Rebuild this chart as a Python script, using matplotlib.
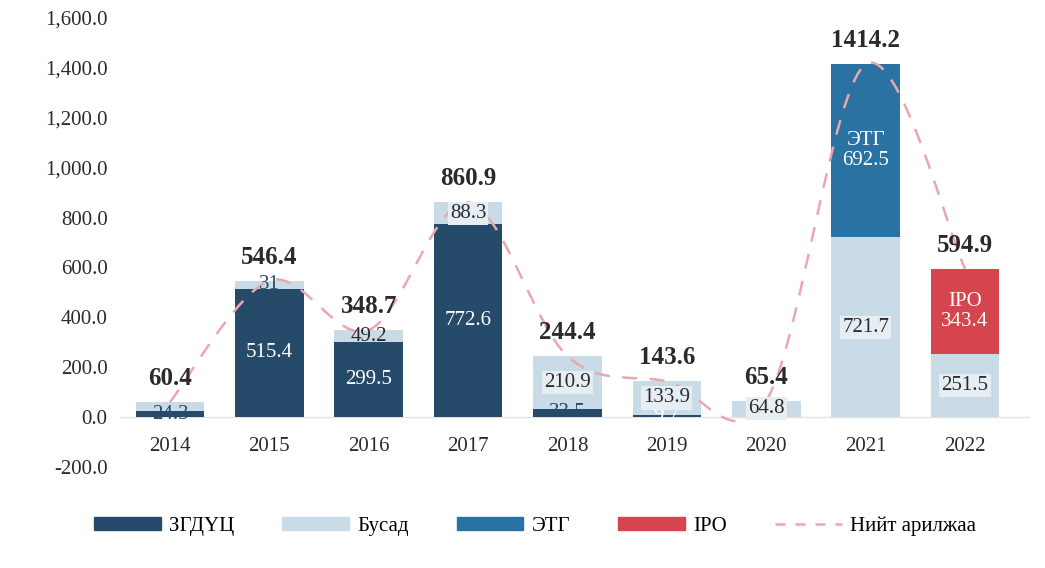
import matplotlib
matplotlib.use('Agg')
import matplotlib.pyplot as plt
from matplotlib.path import Path
from matplotlib.patches import PathPatch, Patch
from matplotlib.lines import Line2D
from matplotlib.ticker import FuncFormatter
import numpy as np

years = ['2014', '2015', '2016', '2017', '2018', '2019', '2020', '2021', '2022']
zgduts = [24.3, 515.4, 299.5, 772.6, 33.5, 9.7, 0.6, 0.0, 0.0]
busad = [36.1, 31.0, 49.2, 88.3, 210.9, 133.9, 64.8, 721.7, 251.5]
etg = [0, 0, 0, 0, 0, 0, 0, 692.5, 0]
ipo = [0, 0, 0, 0, 0, 0, 0, 0, 343.4]
total = [60.4, 546.4, 348.7, 860.9, 244.4, 143.6, 65.4, 1414.2, 594.9]

zgduts_labels = ['24.3', '515.4', '299.5', '772.6', '33.5', '9.7', '', '', '']
busad_labels = ['', '31', '49.2', '88.3', '210.9', '133.9', '64.8', '721.7', '251.5']
etg_labels = ['', '', '', '', '', '', '', 'ЭТГ\n692.5', '']
ipo_labels = ['', '', '', '', '', '', '', '', 'IPO\n343.4']

C_NAVY = '#264a69'
C_LIGHT = '#c9dbe7'
C_BLUE = '#2a72a2'
C_RED = '#d6444d'
C_LINE = '#eba7ae'
C_TEXT = '#2a2a2a'

SERIF = ['Liberation Serif', 'DejaVu Serif']
plt.rcParams['font.family'] = SERIF

fig = plt.figure(figsize=(10.45, 5.68), dpi=100)
ax = fig.add_axes([120/1045, 1 - 467/568, 910/1045, 449/568])

x = np.arange(len(years))
w = 0.69
z = np.array(zgduts)
b = np.array(busad)
e = np.array(etg)
p = np.array(ipo)

ax.bar(x, z, w, color=C_NAVY, zorder=2)
ax.bar(x, b, w, bottom=z, color=C_LIGHT, zorder=2)
ax.bar(x, e, w, bottom=z + b, color=C_BLUE, zorder=2)
ax.bar(x, p, w, bottom=z + b + e, color=C_RED, zorder=2)

# segment labels
for i in range(len(years)):
    if zgduts_labels[i]:
        col = 'white' if zgduts[i] > 100 or zgduts[i] < 20 else C_NAVY
        ax.text(x[i], z[i] / 2, zgduts_labels[i], ha='center', va='center',
                fontsize=15, color=col, zorder=4)
    if busad_labels[i]:
        yc = z[i] + b[i] / 2
        if b[i] > 60:
            ax.text(x[i], yc, busad_labels[i], ha='center', va='center', fontsize=15,
                    color=C_TEXT, zorder=4,
                    bbox=dict(boxstyle='square,pad=0.1', fc='#e6eef4', ec='none'))
        else:
            col = C_NAVY if i != 2 else C_TEXT
            ax.text(x[i], yc, busad_labels[i], ha='center', va='center', fontsize=15,
                    color=col, zorder=4)
    if etg_labels[i]:
        ax.text(x[i], z[i] + b[i] + e[i] / 2, etg_labels[i], ha='center', va='center',
                fontsize=15, color='white', zorder=4, linespacing=1.1)
    if ipo_labels[i]:
        ax.text(x[i], z[i] + b[i] + e[i] + p[i] / 2, ipo_labels[i], ha='center', va='center',
                fontsize=15, color='white', zorder=4, linespacing=1.1)

# totals
for i in range(len(years)):
    ax.text(x[i], total[i] + 95, f'{total[i]:.1f}', ha='center', va='center',
            fontsize=18, fontweight='bold', color=C_TEXT, zorder=4)

# smooth dashed total line (Catmull-Rom through the totals)
pts = np.column_stack([x, total]).astype(float)
ext = np.vstack([pts[0], pts, pts[-1]])
verts = [tuple(pts[0])]
codes = [Path.MOVETO]
for i in range(len(pts) - 1):
    p0, p1, p2, p3 = ext[i], ext[i + 1], ext[i + 2], ext[i + 3]
    c1 = p1 + (p2 - p0) / 6
    c2 = p2 - (p3 - p1) / 6
    verts += [tuple(c1), tuple(c2), tuple(p2)]
    codes += [Path.CURVE4] * 3
ax.add_patch(PathPatch(Path(verts, codes), fill=False, ec=C_LINE, lw=1.8,
                       ls=(0, (6, 5)), zorder=3))

ax.axhline(0, color='#e3e3e3', lw=1, zorder=1)

ax.set_xlim(-0.503, 8.654)
ax.set_ylim(-200, 1600)
ax.set_yticks(np.arange(-200, 1601, 200))
ax.yaxis.set_major_formatter(FuncFormatter(lambda v, _: f'{v:,.1f}'))
ax.set_xticks(x)
ax.set_xticklabels(years)
ax.spines['bottom'].set_position(('data', 0))
for s in ax.spines.values():
    s.set_visible(False)
ax.tick_params(axis='both', length=0, labelsize=15, labelcolor=C_TEXT)
ax.tick_params(axis='y', pad=9)
ax.tick_params(axis='x', pad=14)

handles = [Patch(color=C_NAVY), Patch(color=C_LIGHT), Patch(color=C_BLUE), Patch(color=C_RED),
           Line2D([0], [0], color=C_LINE, lw=1.8, ls=(0, (4, 4)))]
names = ['ЗГДҮЦ', 'Бусад', 'ЭТГ', 'IPO', 'Нийт арилжаа']
fig.legend(handles, names, loc='center', bbox_to_anchor=(535/1045, 1 - 526/568), ncol=5,
           frameon=False, fontsize=15, handlelength=3.2, handleheight=0.6,
           columnspacing=2.3, handletextpad=0.4)

fig.savefig('out.png', dpi=100)
